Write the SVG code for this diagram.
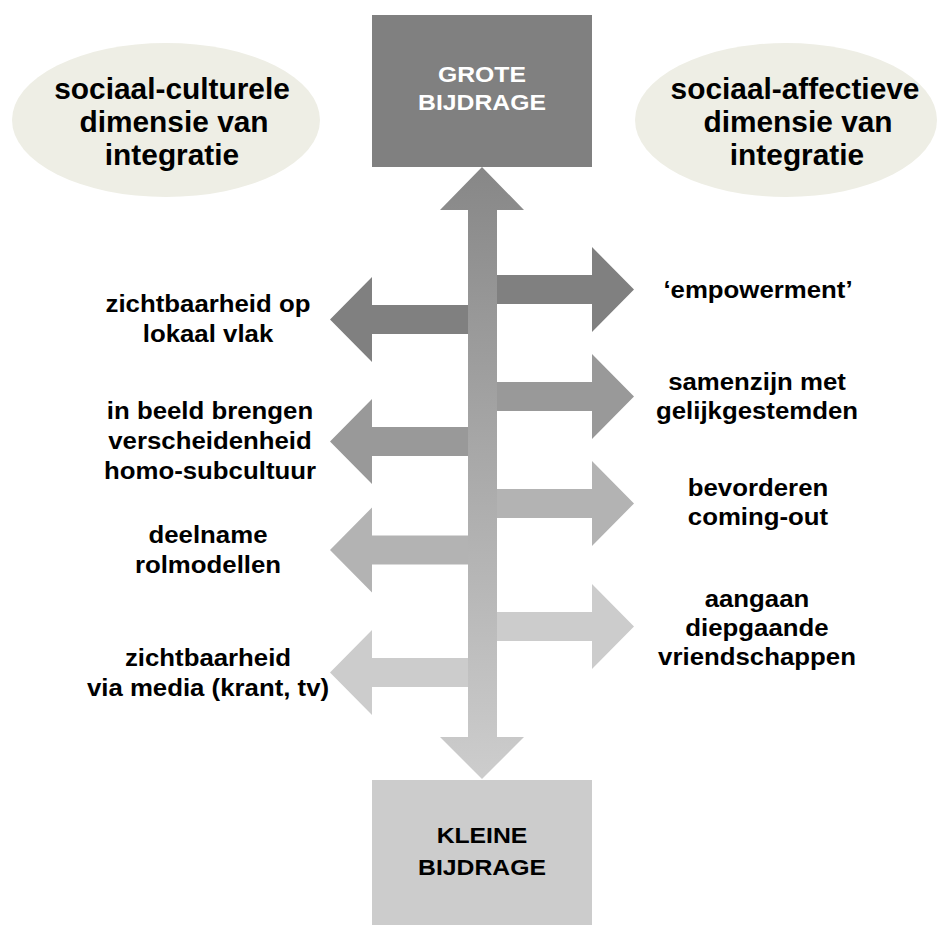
<svg xmlns="http://www.w3.org/2000/svg" width="938" height="925" viewBox="0 0 938 925">
<defs>
<linearGradient id="vgrad" x1="0" y1="167" x2="0" y2="779" gradientUnits="userSpaceOnUse">
<stop offset="0" stop-color="#878787"/>
<stop offset="1" stop-color="#cdcdcd"/>
</linearGradient>
<style>
text{font-family:"Liberation Sans",Arial,Helvetica,sans-serif;font-weight:bold;text-anchor:middle}
.dim{font-size:29px;fill:#000}
.lbl{font-size:24px;fill:#000}
.box{font-size:22.5px}
.c1{fill:#808080}.c2{fill:#999999}.c3{fill:#b3b3b3}.c4{fill:#cccccc}
</style>
</defs>
<rect width="938" height="925" fill="#ffffff"/>
<g id="dim-left">
<ellipse cx="166" cy="120" rx="154" ry="77" fill="#eeeee5"/>
<text class="dim" transform="translate(172,99) scale(1.03,1)">sociaal-culturele</text>
<text class="dim" transform="translate(174,132) scale(1.03,1)">dimensie van</text>
<text class="dim" transform="translate(172,165) scale(1.03,1)">integratie</text>
</g>
<g id="dim-right">
<ellipse cx="786" cy="120" rx="151" ry="77" fill="#eeeee5"/>
<text class="dim" transform="translate(795,99) scale(1.03,1)">sociaal-affectieve</text>
<text class="dim" transform="translate(798,132) scale(1.03,1)">dimensie van</text>
<text class="dim" transform="translate(797,165) scale(1.03,1)">integratie</text>
</g>
<g id="grote">
<rect x="372" y="15" width="220" height="152" fill="#808080"/>
<text class="box" fill="#ffffff" transform="translate(482,82) scale(1.1,1)">GROTE</text>
<text class="box" fill="#ffffff" transform="translate(482,110) scale(1.1,1)">BIJDRAGE</text>
</g>
<g id="kleine">
<rect x="372" y="780" width="220" height="145" fill="#cccccc"/>
<text class="box" fill="#000000" transform="translate(482,843) scale(1.1,1)">KLEINE</text>
<text class="box" fill="#000000" transform="translate(482,875) scale(1.1,1)">BIJDRAGE</text>
</g>
<g id="connectors">
<path class="c1" d="M497,275 H592 V247 L634,289.5 L592,332 V304 H497 Z"/>
<path class="c2" d="M497,382 H592 V354 L634,396.5 L592,439 V411 H497 Z"/>
<path class="c3" d="M497,489 H592 V461 L634,503.5 L592,546 V518 H497 Z"/>
<path class="c4" d="M497,612 H592 V584 L634,626.5 L592,669 V641 H497 Z"/>
<path class="c1" d="M468,305 H372 V277 L330,319.5 L372,362 V334 H468 Z"/>
<path class="c2" d="M468,427 H372 V399 L330,441.5 L372,484 V456 H468 Z"/>
<path class="c3" d="M468,535.5 H372 V507.5 L330,550 L372,592.5 V564.5 H468 Z"/>
<path class="c4" d="M468,658 H372 V630 L330,672.5 L372,715 V687 H468 Z"/>
<path fill="url(#vgrad)" d="M482,167 L524,210 L497,210 L497,737 L524,737 L482,779 L440,737 L468,737 L468,210 L440,210 Z"/>
</g>
<g id="label-l1">
<text class="lbl" transform="translate(208,312) scale(1.075,1)">zichtbaarheid op</text>
<text class="lbl" transform="translate(208,342) scale(1.075,1)">lokaal vlak</text>
</g>
<g id="label-l2">
<text class="lbl" transform="translate(210,419) scale(1.075,1)">in beeld brengen</text>
<text class="lbl" transform="translate(210,449) scale(1.075,1)">verscheidenheid</text>
<text class="lbl" transform="translate(210,479) scale(1.075,1)">homo-subcultuur</text>
</g>
<g id="label-l3">
<text class="lbl" transform="translate(208,543) scale(1.075,1)">deelname</text>
<text class="lbl" transform="translate(208,573) scale(1.075,1)">rolmodellen</text>
</g>
<g id="label-l4">
<text class="lbl" transform="translate(208,666) scale(1.075,1)">zichtbaarheid</text>
<text class="lbl" transform="translate(208,696) scale(1.075,1)">via media (krant, tv)</text>
</g>
<g id="label-r1">
<text class="lbl" transform="translate(758,298) scale(1.075,1)">‘empowerment’</text>
</g>
<g id="label-r2">
<text class="lbl" transform="translate(757,390) scale(1.075,1)">samenzijn met</text>
<text class="lbl" transform="translate(757,419) scale(1.075,1)">gelijkgestemden</text>
</g>
<g id="label-r3">
<text class="lbl" transform="translate(758,496) scale(1.075,1)">bevorderen</text>
<text class="lbl" transform="translate(758,525) scale(1.075,1)">coming-out</text>
</g>
<g id="label-r4">
<text class="lbl" transform="translate(757,607) scale(1.075,1)">aangaan</text>
<text class="lbl" transform="translate(757,636) scale(1.075,1)">diepgaande</text>
<text class="lbl" transform="translate(757,665) scale(1.075,1)">vriendschappen</text>
</g>
</svg>
